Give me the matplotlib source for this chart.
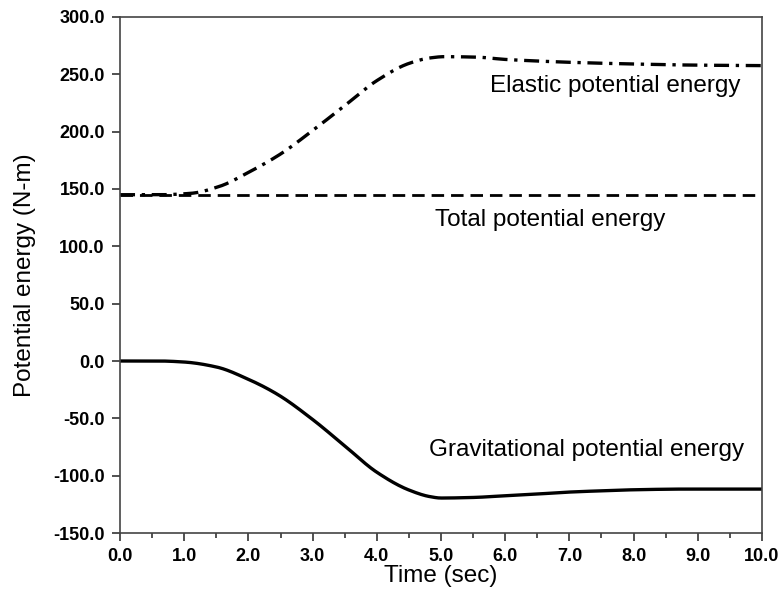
import matplotlib
matplotlib.use("Agg")
import matplotlib.pyplot as plt
import numpy as np
from matplotlib.ticker import MultipleLocator, FormatStrFormatter

plt.rcParams['font.family'] = ['Liberation Sans', 'DejaVu Sans']

# Gravitational potential energy (N-m)
t_grav = [0.0, 0.6, 1.0, 1.5, 2.0, 2.45, 3.0, 3.5, 4.0, 4.5, 4.83, 5.0, 5.5,
          6.0, 6.5, 7.0, 7.5, 8.0, 8.8, 10.0]
grav = [0.0, 0.0, -0.9, -5.2, -16.0, -29.0, -51.0, -74.0, -97.0, -112.5, -118.3,
        -119.5, -119.0, -117.5, -116.0, -114.3, -113.2, -112.3, -111.7, -111.7]

# Elastic potential energy (N-m)
t_elas = [0.0, 0.6, 1.1, 1.55, 2.0, 2.5, 3.0, 3.5, 4.0, 4.5, 4.83, 5.05, 5.55,
          6.0, 6.5, 7.0, 8.0, 9.0, 10.0]
elas = [145.0, 145.0, 146.2, 152.3, 164.5, 180.5, 201.0, 222.7, 244.5, 259.5,
        264.3, 265.4, 265.0, 263.0, 261.6, 260.5, 259.0, 258.0, 257.6]

# Total potential energy (N-m)
t_total = [0.0, 10.0]
total = [145.0, 145.0]

xticks = [0, 1, 2, 3, 4, 5, 6, 7, 8, 9, 10]
yticks = [-150, -100, -50, 0, 50, 100, 150, 200, 250, 300]

fig = plt.figure(figsize=(7.82, 5.90), dpi=100)
ax = fig.add_axes([0.1535, 0.0966, 0.8209, 0.8746])

def smooth(tx, vy):
    tt = np.linspace(tx[0], tx[-1], 600)
    # monotone cubic (PCHIP) interpolation for smooth rendering
    tx = np.asarray(tx, float); vy = np.asarray(vy, float)
    h = np.diff(tx); d = np.diff(vy) / h
    m = np.zeros_like(vy)
    for k in range(1, len(vy) - 1):
        if d[k-1] * d[k] > 0:
            w1 = 2*h[k] + h[k-1]; w2 = h[k] + 2*h[k-1]
            m[k] = (w1 + w2) / (w1/d[k-1] + w2/d[k])
    m[0] = d[0]; m[-1] = d[-1]
    idx = np.clip(np.searchsorted(tx, tt) - 1, 0, len(tx) - 2)
    s = (tt - tx[idx]) / h[idx]
    h00 = 2*s**3 - 3*s**2 + 1; h10 = s**3 - 2*s**2 + s
    h01 = -2*s**3 + 3*s**2; h11 = s**3 - s**2
    yy = h00*vy[idx] + h10*h[idx]*m[idx] + h01*vy[idx+1] + h11*h[idx]*m[idx+1]
    return tt, yy

tg, yg = smooth(t_grav, grav)
te, ye = smooth(t_elas, elas)

ax.plot(t_total, total, color='black', lw=2.0, linestyle=(0, (4.5, 2.5)))
ax.plot(te, ye, color='black', lw=2.4, linestyle=(0, (4.5, 2.0, 1.0, 2.0)))
ax.plot(tg, yg, color='black', lw=2.4, linestyle='-')

ax.set_xlim(0, 10)
ax.set_ylim(-150, 300)
ax.set_xticks(xticks)
ax.set_yticks(yticks)
ax.xaxis.set_minor_locator(MultipleLocator(0.5))
ax.xaxis.set_major_formatter(FormatStrFormatter('%.1f'))
ax.yaxis.set_major_formatter(FormatStrFormatter('%.1f'))

ax.tick_params(axis='both', which='major', direction='out', length=6, width=1.2,
               labelsize=13, pad=5, color='#333333')
ax.tick_params(axis='x', which='minor', direction='out', length=3.5, width=1.2,
               color='#333333')
for lbl in ax.get_xticklabels() + ax.get_yticklabels():
    lbl.set_fontweight('bold')

for sp in ax.spines.values():
    sp.set_linewidth(1.2)
    sp.set_color('#444444')

ax.set_xlabel('Time (sec)', fontsize=17.5, labelpad=0)
ax.set_ylabel('Potential energy (N-m)', fontsize=17.5, labelpad=12)

ax.text(9.66, 240, 'Elastic potential energy', fontsize=17.5, ha='right', va='center')
ax.text(8.5, 123, 'Total potential energy', fontsize=17.5, ha='right', va='center')
ax.text(9.72, -77.5, 'Gravitational potential energy', fontsize=17.5, ha='right', va='center')

fig.savefig('out.png', dpi=100)
